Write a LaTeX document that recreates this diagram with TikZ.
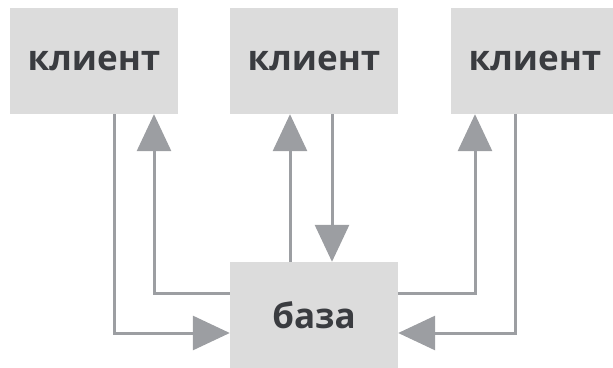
\documentclass[tikz,border=0pt]{standalone}
\usepackage{fontspec}
\setmainfont{Open Sans}
\usepackage{tikz}
\usetikzlibrary{arrows.meta}
\definecolor{boxgr}{HTML}{DCDCDC}
\definecolor{arrgr}{HTML}{9C9EA2}
\definecolor{txtgr}{HTML}{3A3C40}
\tikzset{
  box/.style={fill=boxgr, minimum width=168pt, minimum height=106pt, inner sep=0pt,
    text=txtgr, font=\fontsize{35}{40}\selectfont\bfseries},
  flow/.style={draw=arrgr, line width=3pt, -{Triangle[length=37pt,width=34pt]}}
}

\begin{document}
\begin{tikzpicture}[x=1pt,y=1pt]
\useasboundingbox (0,0) rectangle (613,367);
\node[box] (cl1) at (94,306) {клиент};
\node[box] (cl2) at (314,306) {клиент};
\node[box] (cl3) at (535,306) {клиент};
\node[box] (base) at (314,52) {база};
\draw[flow] ([xshift=20pt]cl1.south) |- ([yshift=-18pt]base.west);
\draw[flow] ([yshift=22pt]base.west) -| ([xshift=60pt]cl1.south);
\draw[flow] ([xshift=-24pt]base.north) -- ([xshift=-24pt]cl2.south);
\draw[flow] ([xshift=18pt]cl2.south) -- ([xshift=18pt]base.north);
\draw[flow] ([yshift=22pt]base.east) -| ([xshift=-60pt]cl3.south);
\draw[flow] ([xshift=-20pt]cl3.south) |- ([yshift=-18pt]base.east);
\end{tikzpicture}
\end{document}
